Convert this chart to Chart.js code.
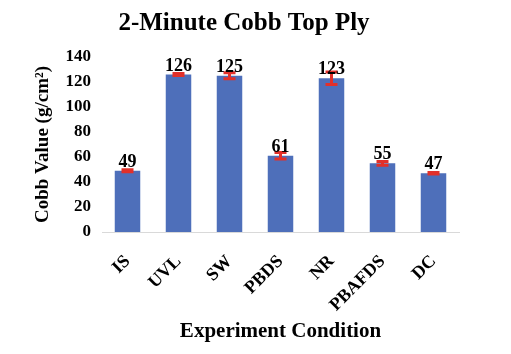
<!DOCTYPE html>
<html>
<head>
<meta charset="utf-8">
<script src="https://cdn.jsdelivr.net/npm/chart.js@4.4.0/dist/chart.umd.min.js"></script>
<style>
    html, body { margin: 0; padding: 0; background: #fff; }
    #wrap { width: 511px; height: 354px; }
</style>
</head>
<body>
<div id="wrap"><canvas id="cobbChart"></canvas></div>
<script>
// Dữ liệu biểu đồ
const categories = ['IS', 'UVL', 'SW', 'PBDS', 'NR', 'PBAFDS', 'DC'];
const cobbValues = [49, 126, 125, 61, 123, 55, 47];
const cobbErrors = [0.8, 0.8, 2.4, 2.6, 5, 1.5, 0.6];
const yTicks = [0, 20, 40, 60, 80, 100, 120, 140];

const serif = "'Liberation Serif', 'Times New Roman', serif";
const barColor = '#4e6fba';
const errColor = '#e2302a';

// Vẽ thanh sai số + nhãn giá trị trên cột
const errorBarPlugin = {
    id: 'errorBars',
    afterDatasetsDraw(chart) {
        const ctx = chart.ctx;
        const y = chart.scales.y;
        const meta = chart.getDatasetMeta(0);
        ctx.save();
        meta.data.forEach((bar, i) => {
            const v = cobbValues[i];
            const e = cobbErrors[i];
            const yTop = y.getPixelForValue(v + e);
            const yBot = y.getPixelForValue(v - e);
            const half = 6;
            ctx.strokeStyle = errColor;
            ctx.lineWidth = 3;
            ctx.beginPath();
            ctx.moveTo(bar.x, yTop);
            ctx.lineTo(bar.x, yBot);
            ctx.moveTo(bar.x - half, yTop);
            ctx.lineTo(bar.x + half, yTop);
            ctx.moveTo(bar.x - half, yBot);
            ctx.lineTo(bar.x + half, yBot);
            ctx.stroke();
        });
        ctx.fillStyle = '#000';
        ctx.font = 'bold 18px ' + serif;
        ctx.textAlign = 'center';
        ctx.textBaseline = 'alphabetic';
        meta.data.forEach((bar, i) => {
            ctx.fillText(String(cobbValues[i]), bar.x, bar.y - 4);
        });
        ctx.restore();
    }
};

new Chart(document.getElementById('cobbChart'), {
    type: 'bar',
    data: {
        labels: categories,
        datasets: [{
            data: cobbValues,
            backgroundColor: barColor,
            categoryPercentage: 1,
            barPercentage: 0.5
        }]
    },
    options: {
        responsive: true,
        maintainAspectRatio: false,
        animation: false,
        layout: { padding: { left: 29, right: 52, top: 0, bottom: 0 } },
        plugins: {
            legend: { display: false },
            tooltip: { enabled: false },
            title: {
                display: true,
                text: '2-Minute Cobb Top Ply',
                color: '#000',
                font: { family: serif, size: 25, weight: 'bold' },
                padding: { top: 9, bottom: 18 }
            }
        },
        scales: {
            x: {
                grid: { display: false, drawTicks: false },
                border: { display: true, color: '#d9d9d9', width: 1 },
                ticks: {
                    color: '#000',
                    font: { family: serif, size: 18, weight: 'bold' },
                    minRotation: 45,
                    maxRotation: 45,
                    padding: 19
                },
                title: {
                    display: true,
                    text: 'Experiment Condition',
                    color: '#000',
                    font: { family: serif, size: 21, weight: 'bold' },
                    padding: { top: 0, bottom: 10 }
                },
                afterFit(scale) { scale.height = 122; }
            },
            y: {
                min: 0,
                max: 140,
                afterBuildTicks(scale) {
                    scale.ticks = yTicks.map(v => ({ value: v }));
                },
                grid: { display: false, drawTicks: false },
                border: { display: false },
                ticks: {
                    color: '#000',
                    font: { family: serif, size: 17, weight: 'bold' },
                    padding: 11
                },
                title: {
                    display: true,
                    text: 'Cobb Value (g/cm²)',
                    color: '#000',
                    font: { family: serif, size: 19, weight: 'bold' },
                    padding: { top: 3, bottom: 0 }
                },
                afterFit(scale) { scale.width = 73; }
            }
        }
    },
    plugins: [errorBarPlugin]
});
</script>
</body>
</html>
